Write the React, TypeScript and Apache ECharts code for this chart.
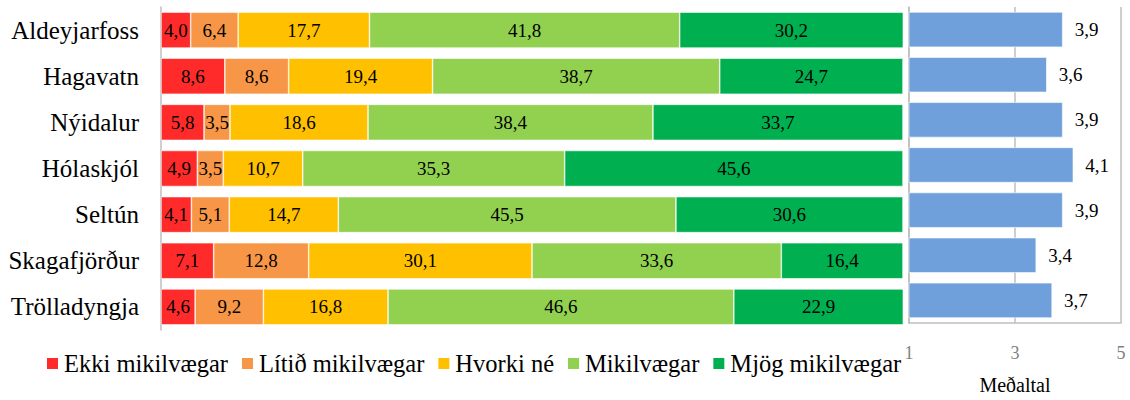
import React, { useEffect, useRef } from "react";
import * as echarts from "echarts";

const categories = ["Aldeyjarfoss", "Hagavatn", "Nýidalur", "Hólaskjól", "Seltún", "Skagafjörður", "Trölladyngja"];
const seriesNames = ["Ekki mikilvægar", "Lítið mikilvægar", "Hvorki né", "Mikilvægar", "Mjög mikilvægar"];
const ekki = [4.0, 8.6, 5.8, 4.9, 4.1, 7.1, 4.6];
const litid = [6.4, 8.6, 3.5, 3.5, 5.1, 12.8, 9.2];
const hvorki = [17.7, 19.4, 18.6, 10.7, 14.7, 30.1, 16.8];
const mikil = [41.8, 38.7, 38.4, 35.3, 45.5, 33.6, 46.6];
const mjog = [30.2, 24.7, 33.7, 45.6, 30.6, 16.4, 22.9];
const medaltal = [3.9, 3.6, 3.9, 4.1, 3.9, 3.4, 3.7];
const colors = ["#FF2B2B", "#F79646", "#FFC000", "#92D050", "#00B050"];
const meanColor = "#6FA0DC";

const FONT = "'Liberation Serif', 'DejaVu Serif', serif";
const fmt = (v: number) => v.toFixed(1).replace(".", ",");

export default function App() {
  const ref = useRef<HTMLDivElement>(null);
  useEffect(() => {
    const chart = echarts.init(ref.current!, null, { renderer: "svg" });
    const stacks = [ekki, litid, hvorki, mikil, mjog];
    chart.setOption({
      animation: false,
      textStyle: { fontFamily: FONT },
      legend: {
        data: seriesNames,
        left: 40,
        top: 346,
        itemWidth: 13,
        itemHeight: 13,
        itemGap: 12,
        icon: "rect",
        textStyle: { fontFamily: FONT, fontSize: 24.5, color: "#000" },
      },
      grid: [
        { left: 161, right: 227, top: 7, bottom: 70 },
        { left: 909, right: 9, top: 7, bottom: 70 },
      ],
      xAxis: [
        { gridIndex: 0, type: "value", min: 0, max: 100, show: false },
        {
          gridIndex: 1,
          type: "value",
          min: 1,
          max: 5,
          interval: 2,
          axisLine: { show: true, lineStyle: { color: "#BFBFBF", width: 1.5 } },
          axisTick: { show: false },
          splitLine: { show: true, lineStyle: { color: "#BFBFBF", width: 1.5 } },
          axisLabel: { color: "#7F7F7F", fontSize: 18, fontFamily: FONT, margin: 21, showMaxLabel: true },
          name: "Meðaltal",
          nameLocation: "middle",
          nameGap: 52,
          nameTextStyle: { color: "#000", fontSize: 20, fontFamily: FONT },
        },
      ],
      yAxis: [
        {
          gridIndex: 0,
          type: "category",
          data: categories,
          inverse: true,
          axisLine: { show: true, lineStyle: { color: "#BFBFBF", width: 1.5 } },
          axisTick: { show: false },
          axisLabel: { color: "#000", fontSize: 25, fontFamily: FONT, margin: 22 },
        },
        {
          gridIndex: 1,
          type: "category",
          data: categories,
          inverse: true,
          axisLine: { show: true, lineStyle: { color: "#BFBFBF", width: 1.5 } },
          axisTick: { show: false },
          axisLabel: { show: false },
        },
      ],
      series: [
        ...stacks.map((d, i) => ({
          name: seriesNames[i],
          type: "bar",
          stack: "total",
          xAxisIndex: 0,
          yAxisIndex: 0,
          data: d,
          barCategoryGap: "22%",
          itemStyle: { color: colors[i], borderColor: "#fff", borderWidth: 0.6 },
          label: {
            show: true,
            position: "inside",
            color: "#000",
            fontSize: 19,
            fontFamily: FONT,
            formatter: (p: any) => fmt(p.value),
          },
        })),
        {
          name: "Meðaltal",
          type: "bar",
          xAxisIndex: 1,
          yAxisIndex: 1,
          data: medaltal,
          barCategoryGap: "22%",
          itemStyle: { color: meanColor, borderColor: "#fff", borderWidth: 0.6 },
          label: {
            show: true,
            position: "right",
            distance: 12,
            color: "#000",
            fontSize: 19,
            fontFamily: FONT,
            formatter: (p: any) => fmt(p.value),
          },
        },
      ],
    });
    return () => chart.dispose();
  }, []);
  return (
    <div
      ref={ref}
      style={{ position: "fixed", left: 0, top: 0, width: 1130, height: 400, background: "#fff" }}
    />
  );
}
